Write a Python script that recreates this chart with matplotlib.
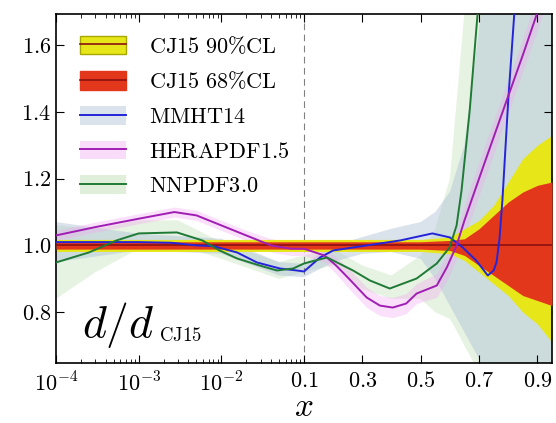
import numpy as np
import matplotlib
matplotlib.use("Agg")
import matplotlib.pyplot as plt
from matplotlib.patches import Patch
from matplotlib.lines import Line2D

plt.rcParams["mathtext.fontset"] = "cm"
plt.rcParams["font.family"] = "serif"
plt.rcParams["font.serif"] = ["cmr10", "DejaVu Serif"]
plt.rcParams["axes.unicode_minus"] = False

# ---------------------------------------------------------------------------
# Data (ratio to CJ15 central d quark)
# ---------------------------------------------------------------------------
# CJ15 uncertainty bands
x_cj = [1e-4, 1e-3, 1e-2, 0.1, 0.3, 0.5, 0.6, 0.65, 0.7, 0.75, 0.8, 0.85, 0.9, 0.95]
cj90_lo = [0.982, 0.982, 0.982, 0.982, 0.982, 0.982, 0.975, 0.955, 0.92, 0.885, 0.85, 0.80, 0.765, 0.71]
cj90_hi = [1.018, 1.018, 1.018, 1.018, 1.018, 1.018, 1.025, 1.05, 1.075, 1.12, 1.19, 1.26, 1.30, 1.33]
cj68_lo = [0.989, 0.989, 0.989, 0.989, 0.989, 0.989, 0.985, 0.97, 0.94, 0.91, 0.88, 0.85, 0.835, 0.82]
cj68_hi = [1.011, 1.011, 1.011, 1.011, 1.011, 1.011, 1.015, 1.02, 1.05, 1.09, 1.13, 1.16, 1.18, 1.19]

# MMHT14
x_mmht = [1e-4, 1e-3, 2.5e-3, 5e-3, 8e-3, 0.0155, 0.027, 0.051, 0.082, 0.1, 0.155, 0.2,
          0.315, 0.43, 0.54, 0.6, 0.644, 0.69, 0.73, 0.75, 0.76, 0.77, 0.78, 0.80, 0.821, 0.84]
mmht = [1.01, 1.01, 1.008, 1.0, 0.998, 0.979, 0.949, 0.931, 0.925, 0.922, 0.964, 0.985,
        1.0, 1.015, 1.036, 1.024, 0.994, 0.955, 0.91, 0.925, 0.95, 1.02, 1.135, 1.435, 1.697, 1.95]
x_mmht_band = [1e-4, 1e-3, 1e-2, 0.05, 0.1, 0.2, 0.3, 0.4, 0.5, 0.55, 0.6, 0.65, 0.7, 0.75, 0.8, 0.95]
mmht_lo = [0.95, 0.985, 0.975, 0.91, 0.905, 0.95, 0.975, 0.98, 0.96, 0.90, 0.82, 0.74, 0.66, 0.55, 0.45, 0.3]
mmht_hi = [1.07, 1.035, 1.02, 0.95, 0.945, 1.0, 1.025, 1.05, 1.07, 1.10, 1.16, 1.3, 1.65, 2.0, 2.5, 3.0]

# HERAPDF1.5
x_hera = [1e-4, 3e-4, 1e-3, 2.7e-3, 5e-3, 1e-2, 0.02, 0.04, 0.07, 0.1, 0.17, 0.21, 0.26,
          0.315, 0.36, 0.404, 0.45, 0.486, 0.555, 0.59, 0.623, 0.65, 0.674, 0.72, 0.797, 0.85, 0.897, 0.93]
hera = [1.03, 1.055, 1.08, 1.10, 1.09, 1.06, 1.03, 1.0, 0.99, 0.99, 0.97, 0.94, 0.895,
        0.844, 0.82, 0.814, 0.826, 0.856, 0.88, 0.935, 1.0, 1.075, 1.135, 1.25, 1.44, 1.57, 1.69, 1.77]
hera_err = [0.015, 0.015, 0.015, 0.015, 0.015, 0.015, 0.015, 0.02, 0.02, 0.02, 0.02, 0.025, 0.03,
            0.03, 0.03, 0.03, 0.03, 0.03, 0.035, 0.04, 0.04, 0.045, 0.05, 0.05, 0.05, 0.05, 0.05, 0.05]

# NNPDF3.0
x_nnpdf = [1e-4, 2.5e-4, 5.4e-4, 1e-3, 2.9e-3, 5.9e-3, 9.5e-3, 0.0155, 0.029, 0.047, 0.074, 0.1,
           0.179, 0.268, 0.326, 0.394, 0.486, 0.555, 0.599, 0.623, 0.64, 0.668, 0.695, 0.71]
nnpdf = [0.949, 0.979, 1.015, 1.036, 1.039, 1.015, 0.985, 0.961, 0.94, 0.925, 0.931, 0.946,
         0.964, 0.925, 0.895, 0.871, 0.901, 0.946, 0.994, 1.06, 1.165, 1.405, 1.694, 1.85]
x_nnpdf_band = [1e-4, 3e-4, 1e-3, 3e-3, 1e-2, 0.05, 0.1, 0.2, 0.3, 0.4, 0.5, 0.55, 0.6, 0.62, 0.65, 0.7, 0.8, 0.95]
nnpdf_lo = [0.84, 0.92, 0.99, 1.0, 0.96, 0.90, 0.92, 0.94, 0.87, 0.84, 0.84, 0.80, 0.78, 0.75, 0.70, 0.62, 0.4, 0.3]
nnpdf_hi = [1.06, 1.05, 1.075, 1.075, 1.01, 0.95, 0.97, 0.99, 0.94, 0.91, 0.97, 1.05, 1.2, 1.4, 1.7, 2.0, 2.5, 3.0]

x_major = [1e-4, 1e-3, 1e-2, 0.1, 0.3, 0.5, 0.7, 0.9]
x_major_labels = [r"$10^{-4}$", r"$10^{-3}$", r"$10^{-2}$", r"$0.1$", r"$0.3$", r"$0.5$", r"$0.7$", r"$0.9$"]
y_major = [0.8, 1.0, 1.2, 1.4, 1.6]
y_major_labels = [r"$0.8$", r"$1.0$", r"$1.2$", r"$1.4$", r"$1.6$"]


# Hybrid x axis: logarithmic below 0.1, linear above
def fwd(x):
    x = np.asarray(x, dtype=float)
    xs = np.clip(x, 1e-12, None)
    return np.where(x <= 0.1, (np.log10(xs) + 1.0) / 3.0, (x - 0.1) / 0.85)


def inv(u):
    u = np.asarray(u, dtype=float)
    return np.where(u <= 0, 10 ** (3.0 * np.minimum(u, 0) - 1.0), 0.1 + 0.85 * u)


fig = plt.figure(figsize=(5.56, 4.23), dpi=100)
ax = fig.add_axes([56 / 556, 1 - 363 / 423, 496 / 556, 349 / 423])
ax.set_xscale("function", functions=(fwd, inv))

# Colours
c_yel, c_yel_edge = "#e6e619", "#a8a800"
c_red = "#e3371c"
c_cj = "#8b1010"
c_mmht, c_mmht_band = "#2424d8", "#aebfd6"
c_hera, c_hera_band = "#a01eb4", "#f2a8f2"
c_nnpdf, c_nnpdf_band = "#1f7a35", "#b8dcae"

# Bands of other groups
ax.fill_between(x_nnpdf_band, nnpdf_lo, nnpdf_hi, color=c_nnpdf_band, alpha=0.35, lw=0, zorder=1)
ax.fill_between(x_mmht_band, mmht_lo, mmht_hi, color=c_mmht_band, alpha=0.45, lw=0, zorder=1)
hera_lo = np.array(hera) - np.array(hera_err)
hera_hi = np.array(hera) + np.array(hera_err)
ax.fill_between(x_hera, hera_lo, hera_hi, color=c_hera_band, alpha=0.35, lw=0, zorder=1)

ax.axvline(0.1, color="grey", ls=(0, (6, 4)), lw=0.8, zorder=1.5)

# CJ15 bands
ax.fill_between(x_cj, cj90_lo, cj90_hi, color=c_yel, lw=0, zorder=2)
ax.fill_between(x_cj, cj68_lo, cj68_hi, color=c_red, lw=0, zorder=3)
ax.plot([1e-4, 0.95], [1.0, 1.0], color=c_cj, lw=1.2, zorder=4)

# Other groups, central values
ax.plot(x_mmht, mmht, color=c_mmht, lw=1.4, zorder=5)
ax.plot(x_hera, hera, color=c_hera, lw=1.4, zorder=5)
ax.plot(x_nnpdf, nnpdf, color=c_nnpdf, lw=1.4, zorder=5)

# Axes
ax.set_xlim(1e-4, 0.95)
ax.set_ylim(0.648, 1.693)
ax.set_xticks(x_major, x_major_labels)
minor = [m * 10.0 ** e for e in (-4, -3, -2) for m in range(2, 10)]
ax.set_xticks(minor, minor=True)
ax.set_yticks(y_major, y_major_labels)
ax.tick_params(which="both", direction="in", top=True, right=True, labelsize=16)
ax.tick_params(which="major", length=6, width=0.8)
ax.tick_params(which="minor", length=3, width=0.6)
ax.tick_params(axis="x", pad=6)
for s in ax.spines.values():
    s.set_linewidth(1.2)
ax.set_xlabel(r"$x$", fontsize=24, labelpad=-2)

ax.text(0.052, 0.075, r"$d/d$", transform=ax.transAxes, fontsize=33, va="baseline")
ax.text(0.207, 0.062, r"$\mathrm{CJ15}$", transform=ax.transAxes, fontsize=13.5, va="baseline")

# Legend
handles = [
    (Patch(facecolor=c_yel, edgecolor=c_yel_edge), Line2D([], [], color=c_cj, lw=1.2)),
    (Patch(facecolor=c_red, edgecolor=c_red), Line2D([], [], color=c_cj, lw=1.2)),
    (Patch(facecolor=c_mmht_band, alpha=0.45), Line2D([], [], color=c_mmht, lw=1.4)),
    (Patch(facecolor=c_hera_band, alpha=0.4), Line2D([], [], color=c_hera, lw=1.4)),
    (Patch(facecolor=c_nnpdf_band, alpha=0.45), Line2D([], [], color=c_nnpdf, lw=1.4)),
]
labels = [r"$\mathrm{CJ15\ 90\%CL}$", r"$\mathrm{CJ15\ 68\%CL}$", r"$\mathrm{MMHT14}$",
          r"$\mathrm{HERAPDF1.5}$", r"$\mathrm{NNPDF3.0}$"]
ax.legend(handles, labels, loc="upper left", bbox_to_anchor=(0.03, 0.965), frameon=False,
          fontsize=16, handlelength=2.1, handleheight=0.9, handletextpad=1.0,
          labelspacing=0.62, borderaxespad=0.0)

fig.savefig("out.png", dpi=100)
